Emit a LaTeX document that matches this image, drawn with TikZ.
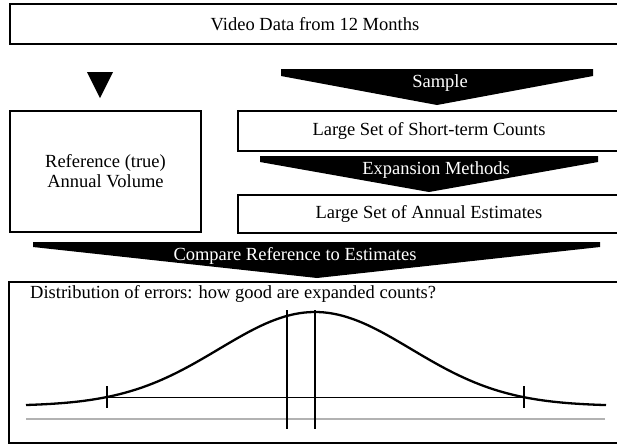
\documentclass[tikz,border=0pt]{standalone}
\usepackage{fontspec}
\setmainfont{Liberation Serif}
\usetikzlibrary{calc}
\newcommand{\boxlw}{1.5pt}
\newcommand{\bellmu}{315}
\newcommand{\bellsd}{96}
\newcommand{\bellbase}{406}
\newcommand{\bellpeak}{94}
\tikzset{
  box/.style={draw, line width=\boxlw, inner sep=0pt, align=center},
  bannertext/.style={text=white, inner sep=0pt},
  tick/.style={line width=1.3pt},
}

\begin{document}
\begin{tikzpicture}[x=1pt,y=-1pt,font=\fontsize{18.5}{20}\selectfont]
    \useasboundingbox (0,0) rectangle (617,445);
    \clip (0,0) rectangle (617,445);

    % boxes
    \node[box, minimum width=610pt, minimum height=40pt] (video)
      at (315,24) {Video Data from 12 Months};
    \node[box, minimum width=191pt, minimum height=121pt] (refvol)
      at (105.5,171.5) {Reference (true)\\Annual Volume};
    \node[box, minimum width=382pt, minimum height=40pt] (short)
      at (429,131) {Large Set of Short-term Counts};
    \node[box, minimum width=382pt, minimum height=38pt] (annual)
      at (429,214) {Large Set of Annual Estimates};
    \node[box, minimum width=611pt, minimum height=161pt] (errors)
      at (314.5,362.5) {};

    % banners
    \fill (87,72) -- (113,72) -- (100,98) -- cycle;
    \fill (281,69) -- (593,69) -- (593,76) -- (437,105) -- (281,76) -- cycle;
    \node[bannertext] (sample) at (440,83) {Sample};
    \fill (260,156) -- (598,156) -- (598,162) -- (429,192) -- (260,162) -- cycle;
    \node[bannertext] (expand) at (436,170) {Expansion Methods};
    \fill (33,242) -- (600,242) -- (600,247) -- (317,278) -- (33,247) -- cycle;
    \node[bannertext] (compare) at (295,256) {Compare Reference to Estimates};

    % distribution
    \node[anchor=west, inner sep=0pt] (errtext) at (30,294)
      {Distribution of errors: how good are expanded counts?};
    \draw[black!30, line width=1.5pt] (26,419) -- (605,419);
    \draw[line width=0.8pt] (107,397) -- (524,397);
    \draw[line width=2.3pt, domain=26:606, samples=120]
      plot (\x, {\bellbase-\bellpeak*exp(-0.5*((\x-\bellmu)/\bellsd)^2)});
    \draw[tick] (107,386) -- (107,408);
    \draw[tick] (524,386) -- (524,408);
    \draw[line width=1.6pt] (287,310) -- (287,429);
    \draw[line width=1.6pt] (315,310) -- (315,429);
\end{tikzpicture}
\end{document}
